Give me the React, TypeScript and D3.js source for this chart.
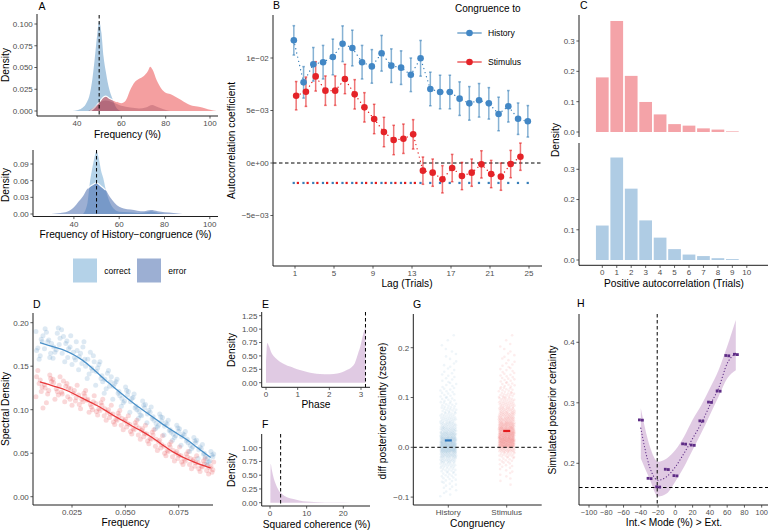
import React from 'react';
import * as d3 from 'd3';

const FONT = '"Liberation Sans", Arial, Helvetica, sans-serif';
const TICKC = '#4D4D4D';
const AXC = '#1f1f1f';
const BLUE = '#377EB8';
const RED = '#E41A1C';
const PURPLE = '#984EA3';
const DPURPLE = '#5E2C86';

type P = [number, number];

// ---------- Panel A (top): density of frequency (%) ----------
const aTopBlue: P[] = [[38, 0], [40, 0.001], [42, 0.003], [44, 0.008], [46, 0.022], [47, 0.038], [48, 0.06], [49, 0.085], [50, 0.103], [51, 0.09], [52, 0.062], [53, 0.045], [54, 0.031], [56, 0.014], [58, 0.003], [60, 0]];
const aTopPink: P[] = [[46, 0], [48, 0.004], [50, 0.01], [52, 0.016], [53, 0.017], [55, 0.014], [58, 0.0107], [60, 0.009], [62, 0.012], [64, 0.024], [66, 0.033], [68, 0.037], [70, 0.04], [72, 0.046], [73, 0.051], [74, 0.048], [76, 0.035], [78, 0.026], [80, 0.021], [82, 0.0195], [84, 0.017], [86, 0.014], [88, 0.011], [90, 0.008], [92, 0.006], [95, 0.005], [98, 0.003], [100, 0.0015], [103, 0]];
const aTopErr: P[] = [[45, 0], [48, 0.005], [51, 0.011], [53, 0.012], [56, 0.01], [60, 0.006], [64, 0.004], [68, 0.003], [71, 0.004], [74, 0.007], [76, 0.005], [79, 0.002], [82, 0]];
const aTopYTicks = [0, 0.025, 0.05, 0.075, 0.1];
const aXTicks = [40, 60, 80, 100];

// ---------- Panel A (bottom): history-congruence ----------
const aBotCorrect: P[] = [[44, 0], [46, 0.02], [47, 0.055], [48, 0.08], [49, 0.1], [50, 0.113], [51, 0.1], [52, 0.078], [53, 0.064], [54, 0.045], [56, 0.02], [58, 0.008], [60, 0.004], [64, 0.003], [68, 0.002], [72, 0.003], [74, 0.005], [76, 0.003], [80, 0]];
const aBotError: P[] = [[30, 0], [34, 0.002], [37, 0.004], [40, 0.012], [42, 0.022], [44, 0.032], [46, 0.046], [48, 0.052], [50, 0.056], [52, 0.05], [54, 0.043], [56, 0.03], [58, 0.02], [60, 0.013], [62, 0.01], [65, 0.008], [68, 0.006], [71, 0.005], [74, 0.007], [77, 0.005], [80, 0.003], [84, 0.002], [88, 0]];
const aBotYTicks = [0, 0.03, 0.06, 0.09];
const aLegend = ['correct', 'error'];

// ---------- Panel B: autocorrelation by lag ----------
const bLags = d3.range(1, 26);
const bHistory = [0.01168, 0.00768, 0.0094, 0.0096, 0.0101, 0.01136, 0.01095, 0.0096, 0.0092, 0.01045, 0.00927, 0.00908, 0.0084, 0.00997, 0.00705, 0.00676, 0.00676, 0.00613, 0.00568, 0.00597, 0.00568, 0.00467, 0.0054, 0.00422, 0.00397];
const bHistoryErr = [0.0014, 0.0015, 0.0016, 0.0016, 0.0017, 0.0017, 0.0017, 0.0016, 0.0016, 0.0017, 0.0016, 0.0016, 0.0016, 0.0017, 0.0016, 0.0016, 0.0016, 0.0016, 0.0016, 0.0016, 0.0015, 0.0016, 0.0015, 0.0015, 0.0015];
const bStimulus = [0.00641, 0.00679, 0.00825, 0.00689, 0.00689, 0.008, 0.00654, 0.0053, 0.00419, 0.00295, 0.00219, 0.00231, 0.00273, -0.00073, -0.00092, -0.00155, -0.00048, -0.00124, -0.00092, -0.00013, -0.00105, -0.0013, -0.0001, 0.0006];
const bStimulusErr = [0.00135, 0.0014, 0.0014, 0.0014, 0.0014, 0.0014, 0.0014, 0.0014, 0.0014, 0.0014, 0.0014, 0.0014, 0.0014, 0.0013, 0.0013, 0.0013, 0.0013, 0.0013, 0.0013, 0.0013, 0.0013, 0.0013, 0.0013, 0.0013];
const bHistorySig = d3.range(1, 26);
const bStimulusSig = d3.range(1, 14);
const bSigLevel = -0.0019;
const bYTicks = [-0.005, 0, 0.005, 0.01];
const bYLabels = ['−5e−03', '0e+00', '5e−03', '1e−02'];
const bXTicks = [1, 5, 9, 13, 17, 21, 25];

// ---------- Panel C: positive autocorrelation histogram ----------
const cTrials = d3.range(0, 11);
const cStimulus = [0.18, 0.366, 0.185, 0.099, 0.058, 0.026, 0.021, 0.012, 0.008, 0.002, 0];
const cHistory = [0.114, 0.339, 0.236, 0.131, 0.074, 0.036, 0.018, 0.013, 0.006, 0.003, 0];
const cYTicks = [0, 0.1, 0.2, 0.3];

// ---------- Panel D: spectral density ----------
const dFreq = [0.010, 0.014, 0.018, 0.022, 0.026, 0.030, 0.034, 0.038, 0.042, 0.046, 0.050, 0.054, 0.058, 0.062, 0.066, 0.070, 0.074, 0.078, 0.082, 0.086, 0.090];
const dBlueFit = [0.177, 0.174, 0.171, 0.168, 0.163, 0.157, 0.149, 0.140, 0.131, 0.123, 0.115, 0.107, 0.100, 0.093, 0.086, 0.079, 0.073, 0.067, 0.060, 0.052, 0.045];
const dRedFit = [0.132, 0.129, 0.126, 0.123, 0.118, 0.113, 0.108, 0.1035, 0.097, 0.091, 0.086, 0.080, 0.075, 0.069, 0.062, 0.055, 0.049, 0.044, 0.040, 0.036, 0.033];
const dBluePts = [
  [0.185, 0.171, 0.178, 0.162, 0.190, 0.168, 0.181, 0.158],
  [0.176, 0.189, 0.165, 0.180, 0.170, 0.193, 0.160, 0.178],
  [0.182, 0.166, 0.175, 0.188, 0.159, 0.172, 0.194, 0.169],
  [0.170, 0.184, 0.160, 0.176, 0.192, 0.165, 0.179, 0.155],
  [0.168, 0.152, 0.178, 0.160, 0.172, 0.185, 0.157, 0.166],
  [0.150, 0.165, 0.158, 0.172, 0.146, 0.161, 0.178, 0.153],
  [0.155, 0.141, 0.162, 0.148, 0.136, 0.158, 0.145, 0.166],
  [0.132, 0.148, 0.139, 0.155, 0.128, 0.144, 0.136, 0.152],
  [0.138, 0.124, 0.132, 0.145, 0.119, 0.135, 0.127, 0.142],
  [0.116, 0.130, 0.121, 0.135, 0.112, 0.127, 0.119, 0.132],
  [0.121, 0.108, 0.117, 0.126, 0.104, 0.113, 0.122, 0.110],
  [0.100, 0.113, 0.104, 0.118, 0.097, 0.109, 0.102, 0.114],
  [0.106, 0.094, 0.102, 0.110, 0.090, 0.098, 0.105, 0.093],
  [0.088, 0.099, 0.092, 0.103, 0.085, 0.095, 0.090, 0.097],
  [0.091, 0.080, 0.087, 0.095, 0.078, 0.084, 0.092, 0.082],
  [0.074, 0.085, 0.077, 0.088, 0.071, 0.081, 0.076, 0.083],
  [0.078, 0.068, 0.075, 0.082, 0.065, 0.072, 0.079, 0.070],
  [0.062, 0.072, 0.066, 0.075, 0.059, 0.069, 0.064, 0.071],
  [0.065, 0.055, 0.062, 0.068, 0.052, 0.059, 0.064, 0.057],
  [0.046, 0.057, 0.050, 0.060, 0.044, 0.054, 0.049, 0.055],
  [0.049, 0.040, 0.046, 0.052, 0.038, 0.044, 0.048, 0.041],
];
const dRedPts = [
  [0.138, 0.121, 0.130, 0.102, 0.145, 0.126, 0.134, 0.115],
  [0.125, 0.140, 0.118, 0.132, 0.108, 0.136, 0.122, 0.129],
  [0.131, 0.117, 0.124, 0.138, 0.112, 0.128, 0.121, 0.135],
  [0.118, 0.130, 0.109, 0.125, 0.133, 0.115, 0.127, 0.120],
  [0.124, 0.110, 0.119, 0.128, 0.105, 0.114, 0.122, 0.112],
  [0.106, 0.119, 0.112, 0.122, 0.101, 0.116, 0.109, 0.117],
  [0.112, 0.100, 0.106, 0.116, 0.097, 0.109, 0.103, 0.111],
  [0.098, 0.108, 0.101, 0.112, 0.094, 0.105, 0.099, 0.107],
  [0.101, 0.091, 0.097, 0.105, 0.088, 0.095, 0.100, 0.093],
  [0.086, 0.096, 0.089, 0.099, 0.083, 0.093, 0.088, 0.095],
  [0.090, 0.080, 0.087, 0.093, 0.077, 0.084, 0.089, 0.082],
  [0.075, 0.085, 0.078, 0.088, 0.072, 0.082, 0.077, 0.083],
  [0.079, 0.069, 0.076, 0.082, 0.066, 0.073, 0.078, 0.071],
  [0.064, 0.074, 0.067, 0.077, 0.061, 0.071, 0.066, 0.072],
  [0.066, 0.056, 0.063, 0.070, 0.053, 0.060, 0.065, 0.058],
  [0.050, 0.060, 0.053, 0.063, 0.047, 0.057, 0.052, 0.058],
  [0.053, 0.044, 0.050, 0.057, 0.041, 0.048, 0.052, 0.046],
  [0.040, 0.049, 0.043, 0.052, 0.037, 0.046, 0.041, 0.047],
  [0.044, 0.035, 0.041, 0.047, 0.032, 0.039, 0.043, 0.037],
  [0.032, 0.041, 0.035, 0.044, 0.029, 0.038, 0.034, 0.039],
  [0.036, 0.028, 0.033, 0.040, 0.026, 0.031, 0.035, 0.030],
];
const dSubFreq = [-0.0016, 0.0006, -0.0004, 0.0014, -0.001, 0.001, 0.0001, -0.0019];
const dYTicks = [0, 0.05, 0.1, 0.15, 0.2];
const dXTicks = [0.025, 0.05, 0.075];

// ---------- Panel E: phase density ----------
const ePhase: P[] = [[0, 0.38], [0.02, 0.62], [0.04, 0.74], [0.08, 0.7], [0.18, 0.55], [0.3, 0.46], [0.44, 0.39], [0.6, 0.34], [0.76, 0.3], [0.9, 0.27], [1.07, 0.237], [1.3, 0.2], [1.49, 0.175], [1.7, 0.163], [2.02, 0.156], [2.25, 0.17], [2.4, 0.195], [2.55, 0.237], [2.7, 0.29], [2.8, 0.36], [2.91, 0.55], [2.98, 0.68], [3.05, 0.86], [3.1, 0.97], [3.14, 1.03]];
const eYTicks = [0, 0.25, 0.5, 0.75, 1, 1.25];
const eXTicks = [0, 1, 2, 3];
const eMark = Math.PI;

// ---------- Panel F: squared coherence density ----------
const fCoh: P[] = [[0.1, 0.4], [0.2, 0.71], [0.5, 0.6], [1, 0.45], [1.5, 0.35], [2, 0.27], [2.5, 0.21], [3, 0.175], [3.6, 0.14], [4, 0.12], [5, 0.09], [6.4, 0.068], [8, 0.042], [10, 0.02], [12, 0.011], [15, 0.005], [18, 0.002], [22, 0.0005], [25, 0]];
const fYTicks = [0, 0.25, 0.5, 0.75, 1];
const fXTicks = [0, 10, 20];
const fMark = 2.9;

// ---------- Panel G: diff posterior certainty ----------
const gCats = ['History', 'Stimulus'];
const gBins = [-0.095, -0.085, -0.075, -0.065, -0.055, -0.045, -0.035, -0.025, -0.015, -0.005, 0.005, 0.015, 0.025, 0.035, 0.045, 0.055, 0.065, 0.075, 0.085, 0.095, 0.105, 0.115, 0.125, 0.135, 0.145, 0.155, 0.165, 0.175, 0.185, 0.195, 0.205, 0.215, 0.225];
const gHistoryCounts = [3, 4, 5, 7, 9, 12, 17, 26, 40, 62, 70, 62, 46, 34, 26, 20, 15, 12, 10, 8, 7, 6, 5, 4, 4, 3, 3, 2, 2, 2, 1, 1, 1];
const gStimulusCounts = [0, 0, 1, 2, 3, 4, 6, 9, 15, 30, 75, 80, 74, 64, 52, 40, 32, 25, 20, 16, 13, 10, 8, 7, 6, 5, 4, 3, 3, 2, 2, 1, 1];
const gMeans = [0.014, 0.033];
const gYTicks = [-0.1, 0, 0.1, 0.2];

// ---------- Panel H: simulated posterior certainty ----------
const hMode = [-40, -30, -20, -10, 0, 10, 20, 30, 40, 50, 60, 70];
const hCertainty = [0.2716, 0.175, 0.161, 0.19, 0.1795, 0.232, 0.23, 0.27, 0.301, 0.3195, 0.378, 0.38];
const hFit = [0.258, 0.195, 0.172, 0.178, 0.194, 0.2165, 0.241, 0.266, 0.296, 0.324, 0.365, 0.382];
const hUpper = [0.291, 0.23, 0.2027, 0.208, 0.222, 0.244, 0.272, 0.296, 0.324, 0.354, 0.393, 0.437];
const hLower = [0.208, 0.175, 0.145, 0.15, 0.17, 0.194, 0.222, 0.25, 0.28, 0.31, 0.34, 0.354];
const hXTicks = [-100, -80, -60, -40, -20, 0, 20, 40, 60, 80, 100];
const hYTicks = [0.2, 0.3, 0.4];
const hVMark = -21;
const hHMark = 0.16;

// ---------- helpers ----------
const fmtMinus = (s: string) => s.replace(/-/g, '−');

function YAxis({ x, top, bottom, scale, ticks, labels, fs = 8 }: any) {
  return (
    <g>
      <line x1={x} x2={x} y1={top} y2={bottom} stroke={AXC} strokeWidth={1} />
      {ticks.map((t: number, i: number) => (
        <g key={i}>
          <line x1={x - 2.6} x2={x} y1={scale(t)} y2={scale(t)} stroke="#333" strokeWidth={0.8} />
          <text x={x - 4.2} y={scale(t) + 2.9} textAnchor="end" fontSize={fs} fill={TICKC} fontFamily={FONT}>{labels[i]}</text>
        </g>
      ))}
    </g>
  );
}

function XAxis({ y, left, right, pos, labels, fs = 8 }: any) {
  return (
    <g>
      <line x1={left} x2={right} y1={y} y2={y} stroke={AXC} strokeWidth={1} />
      {pos.map((p: number, i: number) => (
        <g key={i}>
          <line x1={p} x2={p} y1={y} y2={y + 2.6} stroke="#333" strokeWidth={0.8} />
          <text x={p} y={y + 10} textAnchor="middle" fontSize={fs} fill={TICKC} fontFamily={FONT}>{labels[i]}</text>
        </g>
      ))}
    </g>
  );
}

function Title({ x, y, text, rotate = false, fs = 10.2, anchor = 'middle' }: any) {
  return rotate ? (
    <text transform={`translate(${x},${y}) rotate(-90)`} textAnchor={anchor} fontSize={fs} fill="#000" fontFamily={FONT}>{text}</text>
  ) : (
    <text x={x} y={y} textAnchor={anchor} fontSize={fs} fill="#000" fontFamily={FONT}>{text}</text>
  );
}

function Tag({ x, y, t }: any) {
  return <text x={x} y={y} fontSize={10.5} fill="#000" fontFamily={FONT}>{t}</text>;
}

function densityPath(data: P[], sx: any, sy: any) {
  return d3.area<P>().x(d => sx(d[0])).y0(sy(0)).y1(d => sy(d[1])).curve(d3.curveMonotoneX)(data) || '';
}
function densityTop(data: P[], sx: any, sy: any) {
  return d3.line<P>().x(d => sx(d[0])).y(d => sy(d[1])).curve(d3.curveMonotoneX)(data) || '';
}

export default function App() {
  // ---- A top
  const axT = d3.scaleLinear().domain([40, 100]).range([77, 210]);
  const ayT = d3.scaleLinear().domain([0, 0.1]).range([111, 24]);
  // ---- A bottom
  const axB = d3.scaleLinear().domain([40, 80]).range([73.9, 164.5]);
  const ayB = d3.scaleLinear().domain([0, 0.09]).range([214, 164]);
  // ---- B
  const bx = d3.scaleLinear().domain([1, 25]).range([295, 529]);
  const by = d3.scaleLinear().domain([0, 0.01]).range([163, 58]);
  const dodge = 0.12;
  // ---- C
  const cx = d3.scaleLinear().domain([0, 10]).range([602.3, 746.8]);
  const cyT = d3.scaleLinear().domain([0, 0.3]).range([132, 41]);
  const cyB = d3.scaleLinear().domain([0, 0.3]).range([260, 169.3]);
  const barW = cx(0.88) - cx(0);
  // ---- D
  const dx = d3.scaleLinear().domain([0.025, 0.075]).range([72, 178.7]);
  const dy = d3.scaleLinear().domain([0, 0.15]).range([496.7, 366.2]);
  // ---- E
  const ex = d3.scaleLinear().domain([0, 3]).range([266, 361]);
  const ey = d3.scaleLinear().domain([0, 1.25]).range([382.7, 315.7]);
  // ---- F
  const fx = d3.scaleLinear().domain([0, 20]).range([270, 343.3]);
  const fy = d3.scaleLinear().domain([0, 1]).range([502.7, 447.7]);
  // ---- G
  const gx = d3.scalePoint<string>().domain(gCats).range([448.3, 506.7]);
  const gy = d3.scaleLinear().domain([0, 0.2]).range([447.3, 347.7]);
  // ---- H
  const hx = d3.scaleLinear().domain([-100, 100]).range([589, 761.7]);
  const hy = d3.scaleLinear().domain([0.2, 0.4]).range([463.3, 342.3]);

  const gCloud = (counts: number[], cat: string) => {
    const out: P[] = [];
    gBins.forEach((b, i) => {
      const n = counts[i];
      for (let j = 0; j < n; j++) {
        const fxr = ((j * 0.618034 + i * 0.37) % 1) - 0.5;
        const fyr = (j + 0.5) / n - 0.5;
        out.push([(gx(cat) as number) + fxr * 16, gy(b + fyr * 0.01)]);
      }
    });
    return out;
  };
  const gHist = gCloud(gHistoryCounts, 'History');
  const gStim = gCloud(gStimulusCounts, 'Stimulus');

  const dLine = (fit: number[]) =>
    d3.line<number>().x((_, i) => dx(dFreq[i])).y(v => dy(v)).curve(d3.curveBasis)(fit) || '';

  const hArea = d3.area<number>().x((_, i) => hx(hMode[i])).y0((_, i) => hy(hLower[i])).y1(v => hy(v)).curve(d3.curveMonotoneX)(hUpper) || '';
  const hLine = d3.line<number>().x((_, i) => hx(hMode[i])).y(v => hy(v)).curve(d3.curveMonotoneX)(hFit) || '';

  const bLineH = d3.line<number>().x((_, i) => bx(bLags[i] - dodge)).y(v => by(v))(bHistory) || '';
  const bLineS = d3.line<number>().x((_, i) => bx(bLags[i] + dodge)).y(v => by(v))(bStimulus) || '';

  return (
    <svg width={770} height={530} style={{ position: 'absolute', left: 0, top: 0, display: 'block' }} fontFamily={FONT}>
      <rect x={0} y={0} width={770} height={530} fill="#fff" />

      {/* ================= A top ================= */}
      <Tag x={38.5} y={9.5} t="A" />
      <path d={densityPath(aTopBlue, axT, ayT)} fill={BLUE} fillOpacity={0.42} />
      <path d={densityPath(aTopPink, axT, ayT)} fill={RED} fillOpacity={0.42} />
      <path d={densityTop(aTopPink.filter(d => d[0] <= 58), axT, ayT)} fill="none" stroke="#fff" strokeWidth={1.2} />
      <path d={densityPath(aTopErr, axT, ayT)} fill="#8E3A52" fillOpacity={0.3} />
      <line x1={axT(50)} x2={axT(50)} y1={15} y2={116} stroke="#000" strokeWidth={1} strokeDasharray="3.5,2.5" />
      <YAxis x={37} top={14} bottom={116} scale={ayT} ticks={aTopYTicks} labels={aTopYTicks.map(d3.format('.3f'))} />
      <XAxis y={116} left={37} right={218} pos={aXTicks.map(axT)} labels={aXTicks.map(String)} />
      <Title x={9} y={65} text="Density" rotate />
      <Title x={127.5} y={138} text="Frequency (%)" />

      {/* ================= A bottom ================= */}
      <path d={densityPath(aBotCorrect, axB, ayB)} fill="#69A5D1" fillOpacity={0.5} />
      <path d={densityPath(aBotError, axB, ayB)} fill="#3A5FA8" fillOpacity={0.5} />
      <path d={densityTop(aBotError.filter(d => d[0] >= 45 && d[0] <= 55), axB, ayB)} fill="none" stroke="#fff" strokeWidth={1.2} />
      <line x1={axB(50)} x2={axB(50)} y1={150} y2={216.5} stroke="#000" strokeWidth={1} strokeDasharray="3.5,2.5" />
      <YAxis x={33} top={150} bottom={216.5} scale={ayB} ticks={aBotYTicks} labels={aBotYTicks.map(d3.format('.2f'))} />
      <XAxis y={216.5} left={33} right={218} pos={aXTicks.map(axB)} labels={aXTicks.map(String)} />
      <Title x={9} y={185} text="Density" rotate />
      <Title x={125.5} y={238} text="Frequency of History−congruence (%)" />

      {/* legend A */}
      {aLegend.map((name, i) => (
        <g key={name}>
          <rect x={73 + i * 64} y={258.5} width={24} height={24} fill={i === 0 ? '#69A5D1' : '#3A5FA8'} fillOpacity={0.5} />
          <text x={104.3 + i * 64} y={273.5} fontSize={8.5} fill="#000" fontFamily={FONT}>{name}</text>
        </g>
      ))}

      {/* ================= B ================= */}
      <Tag x={273} y={9} t="B" />
      <line x1={273} x2={542} y1={by(0)} y2={by(0)} stroke="#000" strokeWidth={1} strokeDasharray="3.5,2.5" />
      {bHistorySig.map(l => (
        <rect key={'hs' + l} x={bx(l - dodge) - 1.2} y={by(bSigLevel) - 1.1} width={2.2} height={2.2} fill={BLUE} />
      ))}
      {bStimulusSig.map(l => (
        <rect key={'ss' + l} x={bx(l + dodge) + 0.6} y={by(bSigLevel) - 1.1} width={2.2} height={2.2} fill={RED} />
      ))}
      <path d={bLineH} fill="none" stroke={BLUE} strokeWidth={1.3} strokeDasharray="0.1,4.2" strokeLinecap="round" />
      <path d={bLineS} fill="none" stroke={RED} strokeWidth={1.3} strokeDasharray="0.1,4.2" strokeLinecap="round" />
      {bHistory.map((v, i) => {
        const x = bx(bLags[i] - dodge);
        return (
          <g key={'he' + i} stroke={BLUE} strokeOpacity={0.6} strokeWidth={1.5}>
            <line x1={x} x2={x} y1={by(v - bHistoryErr[i])} y2={by(v + bHistoryErr[i])} />
            <line x1={x - 1.3} x2={x + 1.3} y1={by(v - bHistoryErr[i])} y2={by(v - bHistoryErr[i])} />
            <line x1={x - 1.3} x2={x + 1.3} y1={by(v + bHistoryErr[i])} y2={by(v + bHistoryErr[i])} />
          </g>
        );
      })}
      {bStimulus.map((v, i) => {
        const x = bx(bLags[i] + dodge);
        return (
          <g key={'se' + i} stroke={RED} strokeOpacity={0.6} strokeWidth={1.5}>
            <line x1={x} x2={x} y1={by(v - bStimulusErr[i])} y2={by(v + bStimulusErr[i])} />
            <line x1={x - 1.3} x2={x + 1.3} y1={by(v - bStimulusErr[i])} y2={by(v - bStimulusErr[i])} />
            <line x1={x - 1.3} x2={x + 1.3} y1={by(v + bStimulusErr[i])} y2={by(v + bStimulusErr[i])} />
          </g>
        );
      })}
      {bHistory.map((v, i) => (
        <circle key={'hp' + i} cx={bx(bLags[i] - dodge)} cy={by(v)} r={3.3} fill="#4287C5" />
      ))}
      {bStimulus.map((v, i) => (
        <circle key={'sp' + i} cx={bx(bLags[i] + dodge)} cy={by(v)} r={3.3} fill="#E42328" />
      ))}
      <YAxis x={273} top={15} bottom={266} scale={by} ticks={bYTicks} labels={bYLabels} />
      <XAxis y={266} left={273} right={542} pos={bXTicks.map(bx)} labels={bXTicks.map(String)} />
      <Title x={235} y={140.5} text="Autocorrelation coefficient" rotate />
      <Title x={407} y={287} text="Lag (Trials)" />
      <text x={455} y={11.5} fontSize={10} fill="#000" fontFamily={FONT}>Congruence to</text>
      {[{ name: 'History', c: BLUE, pc: '#4287C5', y: 33 }, { name: 'Stimulus', c: RED, pc: '#E42328', y: 62 }].map(it => (
        <g key={it.name}>
          <line x1={457.3} x2={481.7} y1={it.y} y2={it.y} stroke={it.c} strokeOpacity={0.7} strokeWidth={1.5} />
          <circle cx={469.5} cy={it.y} r={3.3} fill={it.pc} />
          <text x={488} y={it.y + 3} fontSize={8.6} fill="#000" fontFamily={FONT}>{it.name}</text>
        </g>
      ))}

      {/* ================= C ================= */}
      <Tag x={580} y={8.5} t="C" />
      {cStimulus.map((v, i) => (
        <rect key={'cs' + i} x={cx(cTrials[i]) - barW / 2} y={cyT(v)} width={barW} height={Math.max(0, cyT(0) - cyT(v))} fill="#F4A3A8" />
      ))}
      {cHistory.map((v, i) => (
        <rect key={'ch' + i} x={cx(cTrials[i]) - barW / 2} y={cyB(v)} width={barW} height={Math.max(0, cyB(0) - cyB(v))} fill="#AFCCE4" />
      ))}
      <YAxis x={579} top={15} bottom={137} scale={cyT} ticks={cYTicks} labels={cYTicks.map(d3.format('.1f'))} />
      <YAxis x={579} top={143} bottom={265.3} scale={cyB} ticks={cYTicks} labels={cYTicks.map(d3.format('.1f'))} />
      <XAxis y={265.3} left={579} right={768} pos={cTrials.map(cx)} labels={cTrials.map(String)} />
      <Title x={559} y={140} text="Density" rotate />
      <Title x={674} y={286.5} text="Positive autocorrelation (Trials)" />

      {/* ================= D ================= */}
      <Tag x={33} y={308} t="D" />
      {dRedPts.map((col, i) => col.map((v, j) => (
        <circle key={'dr' + i + '_' + j} cx={dx(dFreq[i] + dSubFreq[j])} cy={dy(v)} r={2.5} fill={RED} fillOpacity={0.17} />
      )))}
      {dBluePts.map((col, i) => col.map((v, j) => (
        <circle key={'db' + i + '_' + j} cx={dx(dFreq[i] + dSubFreq[(j + 3) % 8])} cy={dy(v)} r={2.5} fill={BLUE} fillOpacity={0.17} />
      )))}
      <path d={dLine(dBlueFit)} fill="none" stroke="#4A90C8" strokeWidth={1.3} />
      <path d={dLine(dRedFit)} fill="none" stroke="#E8383A" strokeWidth={1.3} />
      <YAxis x={33} top={313} bottom={505} scale={dy} ticks={dYTicks} labels={dYTicks.map(d3.format('.2f'))} />
      <XAxis y={505} left={33} right={213} pos={dXTicks.map(dx)} labels={dXTicks.map(d3.format('.3f'))} />
      <Title x={9} y={409} text="Spectral Density" rotate />
      <Title x={125.5} y={525.5} text="Frequency" />

      {/* ================= E ================= */}
      <Tag x={262} y={308} t="E" />
      <path d={densityPath(ePhase, ex, ey)} fill={PURPLE} fillOpacity={0.3} />
      <line x1={ex(eMark)} x2={ex(eMark)} y1={312} y2={387.3} stroke="#000" strokeWidth={1} strokeDasharray="3.5,2.5" />
      <YAxis x={261.7} top={312} bottom={387.3} scale={ey} ticks={eYTicks} labels={eYTicks.map(d3.format('.2f'))} />
      <XAxis y={387.3} left={261.7} right={370} pos={eXTicks.map(ex)} labels={eXTicks.map(String)} />
      <Title x={235} y={350} text="Density" rotate />
      <Title x={316} y={407.5} text="Phase" />

      {/* ================= F ================= */}
      <Tag x={262} y={427.5} t="F" />
      <path d={densityPath(fCoh, fx, fy)} fill={PURPLE} fillOpacity={0.3} />
      <line x1={fx(fMark)} x2={fx(fMark)} y1={434} y2={506} stroke="#000" strokeWidth={1} strokeDasharray="3.5,2.5" />
      <YAxis x={261.7} top={434} bottom={506} scale={fy} ticks={fYTicks} labels={fYTicks.map(d3.format('.2f'))} />
      <XAxis y={506} left={261.7} right={370} pos={fXTicks.map(fx)} labels={fXTicks.map(String)} />
      <Title x={235} y={470} text="Density" rotate />
      <Title x={316.5} y={527.5} text="Squared coherence (%)" />

      {/* ================= G ================= */}
      <Tag x={413} y={308} t="G" />
      {gHist.map((p, i) => (
        <circle key={'gh' + i} cx={p[0]} cy={p[1]} r={1.3} fill={BLUE} fillOpacity={0.08} />
      ))}
      {gStim.map((p, i) => (
        <circle key={'gs' + i} cx={p[0]} cy={p[1]} r={1.3} fill={RED} fillOpacity={0.08} />
      ))}
      <line x1={413.3} x2={541.7} y1={gy(0)} y2={gy(0)} stroke="#000" strokeWidth={1} strokeDasharray="3.5,2.5" />
      {gCats.map((c, i) => (
        <rect key={'gm' + c} x={(gx(c) as number) - 3.5} y={gy(gMeans[i]) - 1} width={7} height={2.2} fill={i === 0 ? '#2F78BD' : '#E41A1C'} />
      ))}
      <YAxis x={413.3} top={314} bottom={505} scale={gy} ticks={gYTicks} labels={gYTicks.map(d3.format('.1f'))} />
      <XAxis y={505} left={413.3} right={541.7} pos={gCats.map(c => gx(c) as number)} labels={gCats} />
      <Title x={386} y={411} text="diff posterior certainty (zscore)" rotate />
      <Title x={477.5} y={526.5} text="Congruency" />

      {/* ================= H ================= */}
      <Tag x={577} y={307} t="H" />
      <path d={hArea} fill={PURPLE} fillOpacity={0.3} />
      <line x1={579} x2={768} y1={hy(hHMark)} y2={hy(hHMark)} stroke="#000" strokeWidth={1} strokeDasharray="3.5,2.5" />
      <line x1={hx(hVMark)} x2={hx(hVMark)} y1={314} y2={505} stroke="#000" strokeWidth={1} strokeDasharray="3.5,2.5" />
      <path d={hLine} fill="none" stroke={DPURPLE} strokeWidth={1.2} strokeDasharray="0.1,3" strokeLinecap="round" />
      {hCertainty.map((v, i) => (
        <g key={'hp' + i} fill={DPURPLE}>
          <rect x={hx(hMode[i]) - 2.8} y={hy(v) - 1.5} width={2.8} height={2.8} />
          <rect x={hx(hMode[i]) + 0.2} y={hy(v) - 1.2} width={2.8} height={2.8} />
        </g>
      ))}
      <YAxis x={579} top={314} bottom={505} scale={hy} ticks={hYTicks} labels={hYTicks.map(d3.format('.1f'))} />
      <XAxis y={505} left={579} right={768} pos={hXTicks.map(hx)} labels={hXTicks.map(v => fmtMinus(String(v)))} fs={7.4} />
      <Title x={556} y={410} text="Simulated posterior certainty" rotate />
      <Title x={674} y={526} text="Int.< Mode (%) > Ext." />
    </svg>
  );
}
